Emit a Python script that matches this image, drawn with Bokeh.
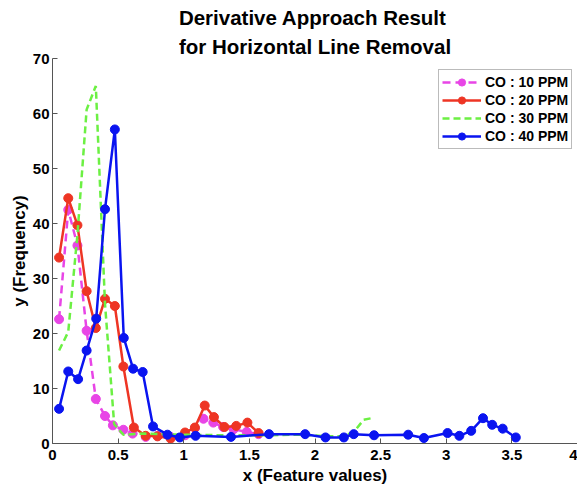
from bokeh.plotting import figure
from bokeh.models import FixedTicker, NumeralTickFormatter, Legend
from bokeh.embed import file_html
from bokeh.resources import INLINE

# ---- data ----
x10 = [0.05, 0.12, 0.19, 0.26, 0.33, 0.40, 0.46, 0.54, 0.61, 0.71, 0.80, 0.90, 1.01, 1.085, 1.15, 1.225, 1.30, 1.38, 1.48, 1.57]
y10 = [22.6, 42.5, 36.0, 20.5, 8.1, 5.0, 3.3, 2.5, 1.8, 1.2, 1.4, 1.2, 1.5, 2.8, 4.5, 3.8, 3.0, 2.6, 2.1, 1.7]

x20 = [0.05, 0.12, 0.19, 0.26, 0.33, 0.40, 0.475, 0.54, 0.62, 0.71, 0.80, 0.90, 1.01, 1.085, 1.16, 1.23, 1.31, 1.40, 1.485, 1.57]
y20 = [33.8, 44.6, 39.7, 27.7, 21.0, 26.3, 25.0, 14.0, 2.9, 1.4, 1.3, 0.9, 2.0, 2.9, 6.9, 4.8, 3.0, 3.2, 3.8, 1.9]

x30 = [0.05, 0.12, 0.19, 0.26, 0.33, 0.40, 0.47, 0.54, 0.70, 1.00, 1.30, 1.60, 1.90, 2.10, 2.22, 2.30, 2.37, 2.43]
y30 = [16.9, 20.3, 38.0, 60.7, 65.0, 25.4, 3.5, 1.6, 1.8, 1.6, 1.5, 1.5, 1.6, 1.3, 1.3, 2.2, 4.3, 4.6]

x40 = [0.05, 0.12, 0.195, 0.26, 0.333, 0.40, 0.475, 0.543, 0.614, 0.687, 0.766, 0.876, 0.97, 1.09, 1.36, 1.65, 1.925, 2.08, 2.22, 2.295, 2.45, 2.71, 2.83, 3.01, 3.10, 3.19, 3.28, 3.35, 3.43, 3.53]
y40 = [6.3, 13.1, 11.7, 16.9, 22.7, 42.6, 57.1, 19.2, 13.6, 13.0, 3.1, 1.6, 1.1, 1.4, 1.2, 1.7, 1.7, 1.1, 1.1, 1.7, 1.5, 1.6, 1.0, 1.9, 1.4, 2.3, 4.6, 3.4, 2.7, 1.1]

labels = ["CO : 10 PPM", "CO : 20 PPM", "CO : 30 PPM", "CO : 40 PPM"]
x_ticks = [0, 0.5, 1, 1.5, 2, 2.5, 3, 3.5, 4]
y_ticks = [0, 10, 20, 30, 40, 50, 60, 70]

FONT = "Liberation Sans"
C10, C20, C30, C40 = "#E845E6", "#EE3524", "#6CF043", "#0A14F0"

p = figure(width=577, height=487, x_range=(0, 4), y_range=(0, 70),
           output_backend="svg", toolbar_location=None,
           min_border_left=52, min_border_right=0, min_border_top=58, min_border_bottom=44,
           title="Derivative Approach Result\nfor Horizontal Line Removal")
p.title.align = "center"
p.title.text_font = FONT
p.title.text_font_size = "20.5px"
p.title.text_font_style = "bold"
p.title.text_color = "black"
p.title.text_line_height = 1.25
p.title.standoff = 2

p.grid.visible = False
p.outline_line_color = None
p.background_fill_color = "white"
p.border_fill_color = "white"

for ax in (p.xaxis[0], p.yaxis[0]):
    ax.major_tick_in = 5
    ax.major_tick_out = 0
    ax.minor_tick_line_color = None
    ax.axis_line_color = "#555555"
    ax.major_tick_line_color = "#555555"
    ax.major_label_text_font = FONT
    ax.major_label_text_font_size = "15px"
    ax.major_label_text_font_style = "bold"
    ax.major_label_text_color = "black"
    ax.axis_label_text_font = FONT
    ax.axis_label_text_font_size = "17px"
    ax.axis_label_text_font_style = "bold"
    ax.axis_label_text_color = "black"

p.xaxis.ticker = FixedTicker(ticks=x_ticks)
p.xaxis.formatter = NumeralTickFormatter(format="0.[0]")
p.yaxis.ticker = FixedTicker(ticks=y_ticks)
p.xaxis.axis_label = "x (Feature values)"
p.yaxis.axis_label = "y (Frequency)"
p.xaxis.major_label_standoff = 6
p.xaxis.axis_label_standoff = 3
p.yaxis.major_label_standoff = 3
p.yaxis.axis_label_standoff = 1

l10 = p.line(x10, y10, line_color=C10, line_width=2.5, line_dash="8 5")
s10 = p.scatter(x10, y10, marker="circle", size=9, fill_color=C10, line_color=C10)
l20 = p.line(x20, y20, line_color=C20, line_width=2.5)
s20 = p.scatter(x20, y20, marker="circle", size=9, fill_color=C20, line_color=C20)
l30 = p.line(x30, y30, line_color=C30, line_width=2.5, line_dash="7 4")
l40 = p.line(x40, y40, line_color=C40, line_width=2.5)
s40 = p.scatter(x40, y40, marker="circle", size=9, fill_color=C40, line_color=C40)

legend = Legend(items=[(labels[0], [l10, s10]), (labels[1], [l20, s20]),
                       (labels[2], [l30]), (labels[3], [l40, s40])],
                location=(386, 294))
legend.margin = 0
legend.padding = 3
legend.spacing = 0
legend.glyph_width = 39
legend.glyph_height = 18
legend.label_height = 18
legend.label_standoff = 4
legend.label_text_font = FONT
legend.label_text_font_size = "14px"
legend.label_text_font_style = "bold"
legend.label_text_color = "black"
legend.border_line_color = "#777777"
legend.border_line_width = 1
legend.background_fill_color = "white"
legend.background_fill_alpha = 1
p.add_layout(legend, "center")

open("out.html", "w").write(file_html(p, INLINE))
